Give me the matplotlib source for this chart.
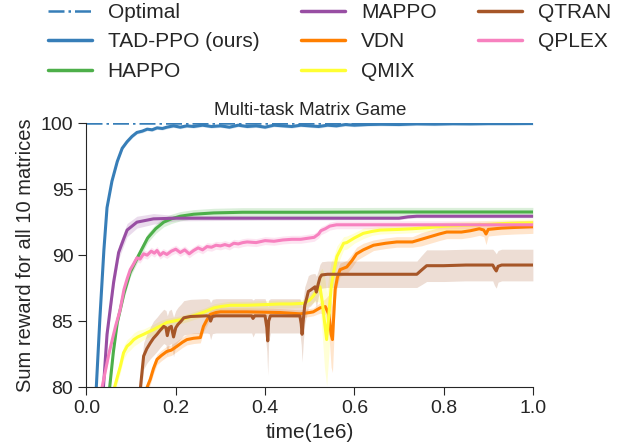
import numpy as np
import matplotlib
matplotlib.use("Agg")
import matplotlib.pyplot as plt
import seaborn as sns
from matplotlib.lines import Line2D

sns.set_style("ticks")
plt.rcParams['font.family'] = ['Liberation Sans', 'DejaVu Sans']

# Set1 colours
colors = {
    'TAD-PPO (ours)': '#377eb8',
    'HAPPO': '#4daf4a',
    'MAPPO': '#984ea3',
    'VDN': '#ff7f00',
    'QMIX': '#ffff33',
    'QTRAN': '#a65628',
    'QPLEX': '#f781bf',
}

optimal_value = 100

# TAD-PPO
tad_x = [0.015, 0.022, 0.030, 0.039, 0.046, 0.057, 0.069, 0.080, 0.091, 0.102, 0.113, 0.125, 0.136,
         0.147, 0.158, 0.17, 0.18, 0.195, 0.21, 0.225, 0.24, 0.26, 0.28, 0.30, 0.32, 0.34, 0.36,
         0.38, 0.40, 0.42, 0.44, 0.46, 0.48, 0.50, 0.52, 0.54, 0.56, 0.58, 0.60, 0.63, 0.66, 0.70,
         0.74, 0.78, 0.82, 0.86, 0.90, 0.95, 1.00]
tad_y = [75, 80, 85.2, 90.4, 93.6, 95.6, 97.1, 98.1, 98.6, 99.0, 99.3, 99.4, 99.55,
         99.5, 99.65, 99.6, 99.7, 99.8, 99.7, 99.8, 99.75, 99.85, 99.75, 99.8, 99.7, 99.85, 99.75,
         99.8, 99.7, 99.85, 99.8, 99.75, 99.85, 99.8, 99.75, 99.85, 99.8, 99.9, 99.85, 99.9, 99.92, 99.9,
         99.95, 99.93, 99.96, 99.95, 99.97, 99.97, 99.98]
tad_sd = 0.12

# HAPPO
happo_x = [0.045, 0.052, 0.06, 0.069, 0.084, 0.098, 0.117, 0.137, 0.155, 0.173, 0.19, 0.21, 0.24,
           0.285, 0.35, 0.5, 0.7, 1.0]
happo_y = [77, 80, 82.6, 84.9, 87.1, 88.7, 90.0, 91.3, 92.0, 92.5, 92.75, 92.95, 93.1,
           93.2, 93.25, 93.25, 93.27, 93.27]
happo_sd = 0.35

# MAPPO
mappo_x = [0.03, 0.038, 0.046, 0.061, 0.072, 0.083, 0.091, 0.113, 0.15, 0.2, 0.4, 0.7, 0.72, 0.74, 1.0]
mappo_y = [76, 80, 84.0, 88.0, 90.2, 91.2, 91.9, 92.5, 92.75, 92.8, 92.8, 92.8, 92.9, 92.95, 92.95]
mappo_sd = [0.3, 0.4, 0.5, 0.5, 0.5, 0.5, 0.5, 0.45, 0.4, 0.2, 0.15, 0.12, 0.12, 0.12, 0.12]

# VDN
vdn_x = [0.12, 0.136, 0.143, 0.15, 0.158, 0.168, 0.18, 0.19, 0.203, 0.215, 0.225, 0.24, 0.255, 0.262,
         0.27, 0.277, 0.29, 0.30, 0.36, 0.434, 0.479, 0.50, 0.508, 0.523, 0.535, 0.543, 0.548, 0.551,
         0.554, 0.557, 0.562, 0.568, 0.583, 0.595, 0.605, 0.62, 0.643, 0.67, 0.695, 0.73, 0.75, 0.77,
         0.79, 0.807, 0.84, 0.86, 0.88, 0.89, 0.895, 0.90, 0.93, 0.96, 1.0]
vdn_y = [76, 80, 80.6, 81.4, 82.1, 82.4, 82.7, 82.8, 83.1, 83.4, 83.6, 83.7, 83.75, 84.6,
         85.1, 85.5, 85.65, 85.7, 85.7, 85.65, 85.55, 85.65, 85.7, 86.0, 86.1, 85.5, 84.0, 83.6,
         85.5, 87.4, 88.3, 88.9, 89.1, 89.6, 90.1, 90.4, 90.75, 90.9, 91.0, 91.0, 91.2, 91.4,
         91.6, 91.75, 91.75, 91.85, 92.0, 91.9, 91.6, 91.95, 92.05, 92.1, 92.15]
vdn_sd = [0.4, 0.4, 0.4, 0.4, 0.4, 0.4, 0.4, 0.4, 0.4, 0.4, 0.4, 0.4, 0.4, 0.4,
          0.4, 0.3, 0.3, 0.3, 0.3, 0.3, 0.3, 0.3, 0.3, 0.4, 0.6, 1.5, 2.5, 2.5,
          2.0, 1.0, 0.6, 0.5, 0.5, 0.5, 0.5, 0.5, 0.4, 0.4, 0.4, 0.4, 0.5, 0.5,
          0.5, 0.5, 0.5, 0.5, 0.5, 0.5, 0.8, 0.5, 0.5, 0.5, 0.5]

# QMIX
qmix_x = [0.055, 0.063, 0.076, 0.083, 0.091, 0.098, 0.106, 0.115, 0.128, 0.14, 0.15, 0.158, 0.17,
          0.18, 0.195, 0.21, 0.23, 0.248, 0.265, 0.285, 0.30, 0.322, 0.36, 0.40, 0.434, 0.46, 0.486,
          0.50, 0.508, 0.516, 0.523, 0.528, 0.533, 0.538, 0.543, 0.548, 0.553, 0.561, 0.57, 0.576,
          0.583, 0.6, 0.62, 0.64, 0.658, 0.7, 0.73, 0.77, 0.805, 0.84, 0.88, 0.94, 1.0]
qmix_y = [77, 80, 81.6, 82.6, 83.1, 83.3, 83.6, 83.8, 84.0, 84.2, 84.35, 84.5, 84.7,
          84.9, 85.0, 85.1, 85.3, 85.5, 85.7, 86.0, 86.1, 86.2, 86.2, 86.25, 86.3, 86.3, 86.35,
          86.6, 86.9, 87.3, 87.6, 86.5, 85.0, 83.6, 85.5, 87.5, 88.6, 89.9, 90.5, 90.9,
          90.95, 91.3, 91.65, 91.8, 91.9, 91.95, 92.0, 92.1, 92.2, 92.25, 92.3, 92.4, 92.45]
qmix_sd = [0.5, 0.5, 0.5, 0.5, 0.5, 0.5, 0.5, 0.5, 0.4, 0.4, 0.4, 0.4, 0.4,
           0.3, 0.3, 0.3, 0.3, 0.3, 0.3, 0.3, 0.3, 0.3, 0.3, 0.3, 0.3, 0.3, 0.3,
           0.4, 0.5, 0.8, 1.2, 2.5, 3.5, 3.5, 3.0, 2.0, 1.2, 0.8, 0.6, 0.5,
           0.5, 0.4, 0.4, 0.3, 0.3, 0.3, 0.3, 0.3, 0.3, 0.3, 0.3, 0.3, 0.3]

# QTRAN
qtran_x = [0.11, 0.121, 0.128, 0.135, 0.143, 0.15, 0.158, 0.165, 0.173, 0.178, 0.181, 0.185, 0.19,
           0.195, 0.2, 0.205, 0.212, 0.218, 0.233, 0.27, 0.275, 0.278, 0.282, 0.29, 0.37, 0.373,
           0.377, 0.40, 0.404, 0.406, 0.408, 0.412, 0.478, 0.481, 0.483, 0.486, 0.489, 0.493, 0.497,
           0.502, 0.508, 0.512, 0.515, 0.519, 0.523, 0.527, 0.54, 0.6, 0.7, 0.74, 0.75, 0.762, 0.8,
           0.85, 0.91, 0.914, 0.918, 0.922, 0.93, 1.0]
qtran_y = [76, 80, 82.35, 82.9, 83.35, 83.7, 84.0, 84.3, 84.6, 84.5, 83.9, 84.5, 84.6,
           83.8, 84.5, 84.75, 85.0, 85.25, 85.35, 85.4, 85.35, 85.0, 85.35, 85.4, 85.4, 85.2,
           85.4, 85.4, 84.5, 83.5, 85.0, 85.4, 85.4, 84.8, 84.0, 85.2, 86.2, 86.7, 87.25,
           87.35, 87.5, 87.6, 87.2, 87.8, 88.3, 88.5, 88.55, 88.55, 88.55, 88.55, 88.85, 89.2, 89.2,
           89.25, 89.25, 89.0, 88.8, 89.15, 89.25, 89.25]
qtran_sd = [1.0, 1.0, 1.0, 1.1, 1.2, 1.3, 1.3, 1.3, 1.3, 1.3, 1.5, 1.3, 1.3,
            1.5, 1.3, 1.3, 1.3, 1.3, 1.3, 1.3, 1.3, 1.4, 1.3, 1.3, 1.3, 1.4,
            1.3, 1.3, 1.8, 2.6, 1.6, 1.3, 1.3, 1.6, 2.1, 1.6, 1.4, 1.3, 1.2,
            1.2, 1.1, 1.0, 1.2, 1.0, 1.0, 1.0, 1.0, 1.0, 1.0, 1.0, 1.1, 1.2, 1.2,
            1.2, 1.2, 1.3, 1.3, 1.2, 1.2, 1.2]

# QPLEX
qplex_x = [0.03, 0.035, 0.05, 0.065, 0.075, 0.084, 0.091, 0.098, 0.105, 0.113, 0.12, 0.128, 0.136,
           0.145, 0.152, 0.158, 0.165, 0.172, 0.18, 0.19, 0.2, 0.21, 0.22, 0.23, 0.24, 0.25, 0.26,
           0.27, 0.28, 0.29, 0.30, 0.31, 0.32, 0.33, 0.34, 0.35, 0.36, 0.38, 0.40, 0.42, 0.44, 0.46,
           0.48, 0.50, 0.51, 0.52, 0.525, 0.535, 0.545, 0.56, 0.6, 0.8, 1.0]
qplex_y = [77, 80, 82.5, 84.6, 85.8, 87.4, 88.2, 88.9, 89.3, 89.8, 89.7, 90.1, 90.0,
           90.3, 90.15, 90.35, 90.0, 90.2, 90.05, 90.3, 90.45, 90.2, 90.4, 90.1, 90.35, 90.55, 90.4,
           90.65, 90.6, 90.75, 90.7, 90.8, 90.7, 90.9, 90.85, 90.95, 91.0, 90.95, 91.1, 91.05, 91.15, 91.2,
           91.2, 91.3, 91.35, 91.6, 91.85, 92.0, 92.2, 92.3, 92.3, 92.3, 92.3]
qplex_sd = 0.3

series = [
    ('TAD-PPO (ours)', tad_x, tad_y, tad_sd),
    ('HAPPO', happo_x, happo_y, happo_sd),
    ('MAPPO', mappo_x, mappo_y, mappo_sd),
    ('VDN', vdn_x, vdn_y, vdn_sd),
    ('QMIX', qmix_x, qmix_y, qmix_sd),
    ('QTRAN', qtran_x, qtran_y, qtran_sd),
    ('QPLEX', qplex_x, qplex_y, qplex_sd),
]

fig = plt.figure(figsize=(6.2, 4.48), dpi=100)
ax = fig.add_axes([0.1395, 0.136, 0.720, 0.589])

# shaded bands first, then the mean curves
for name, x, y, sd in series:
    y = np.array(y)
    sd = np.array(sd)
    ax.fill_between(x, y - sd, y + sd, color=colors[name], alpha=0.2, linewidth=0)

ax.axhline(optimal_value, color=colors['TAD-PPO (ours)'], linestyle='-.', linewidth=1.8)
for name, x, y, sd in series:
    ax.plot(x, y, color=colors[name], linewidth=2.2, label=name)

ax.set_xlim(0, 1.0)
ax.set_ylim(80, 100)
ax.set_xticks([0.0, 0.2, 0.4, 0.6, 0.8, 1.0])
ax.set_yticks([80, 85, 90, 95, 100])
ax.tick_params(labelsize=14, length=6)
ax.set_xlabel('time(1e6)', fontsize=15)
ax.set_ylabel('Sum reward for all 10 matrices', fontsize=14.5)
ax.set_title('Multi-task Matrix Game', fontsize=13.5)
sns.despine(ax=ax)

handles = [Line2D([], [], color=colors['TAD-PPO (ours)'], linestyle='-.', linewidth=1.8)]
labels = ['Optimal']
for name, x, y, sd in series:
    handles.append(Line2D([], [], color=colors[name], linewidth=2.5))
    labels.append(name)

fig.legend(handles, labels, ncol=3, frameon=False, loc='upper left',
           bbox_to_anchor=(0.047, 1.035), fontsize=15, handlelength=2.1,
           handletextpad=0.77, columnspacing=2.0, labelspacing=0.5)

fig.savefig('out.png', dpi=100)
